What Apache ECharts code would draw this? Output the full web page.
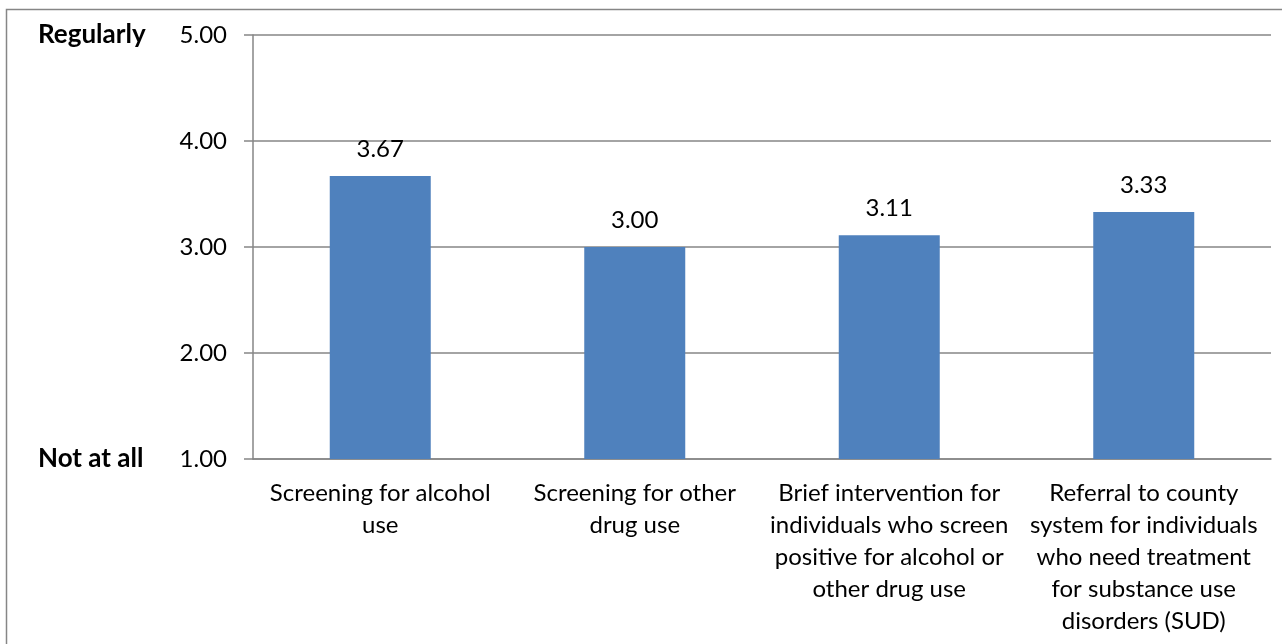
<!DOCTYPE html>
<html>
<head>
<meta charset="utf-8">
<script src="https://cdn.jsdelivr.net/npm/echarts@6/dist/echarts.min.js"></script>
<style>
    html, body { margin: 0; padding: 0; background: #fff; }
    #chart { width: 1282px; height: 644px; }
</style>
</head>
<body>
<div id="chart"></div>
<script>
// categories, one line break per wrapped row as in the picture
const categories = [
    'Screening for alcohol\nuse',
    'Screening for other\ndrug use',
    'Brief intervention for\nindividuals who screen\npositive for alcohol or\nother drug use',
    'Referral to county\nsystem for individuals\nwho need treatment\nfor substance use\ndisorders (SUD)'
];
const values = [3.67, 3.00, 3.11, 3.33];
// words next to the end ticks of the scale
const scaleWords = {1: 'Not at all', 5: 'Regularly'};

const font = 'Lato';
const grey = '#868686';

let myChart = echarts.init(document.getElementById('chart'));
myChart.setOption({
    animation: false,
    textStyle: { fontFamily: font },
    grid: { left: 253, right: 11, top: 35, bottom: 185 },
    graphic: [{
        // frame round the whole chart, only left and top edges in view
        type: 'rect',
        shape: { x: 6.5, y: 9.5, width: 1400, height: 800 },
        style: { fill: 'none', stroke: grey, lineWidth: 1.5 },
        silent: true
    }],
    xAxis: {
        type: 'category',
        data: categories,
        axisLine: { lineStyle: { color: grey, width: 1.5 } },
        axisTick: { alignWithLabel: false, length: 8, lineStyle: { color: grey, width: 1.5 } },
        axisLabel: {
            interval: 0,
            margin: 18,
            color: '#000',
            fontFamily: font,
            fontSize: 24,
            lineHeight: 32
        }
    },
    yAxis: {
        type: 'value',
        min: 1,
        max: 5,
        interval: 1,
        axisLine: { show: true, lineStyle: { color: grey, width: 1.5 } },
        axisTick: { show: true, length: 9, lineStyle: { color: grey, width: 1.5 } },
        splitLine: { lineStyle: { color: grey, width: 1.5 } },
        axisLabel: {
            margin: 26,
            formatter: function (v) {
                let word = scaleWords[v] || '';
                return '{w|' + word + '}{n|' + v.toFixed(2) + '}';
            },
            rich: {
                w: { width: 136, align: 'left', fontSize: 26, fontWeight: 'bold', color: '#000', fontFamily: font },
                n: { width: 53, align: 'right', fontSize: 24, color: '#000', fontFamily: font }
            }
        }
    },
    series: [{
        type: 'bar',
        data: values,
        barWidth: 101,
        itemStyle: { color: '#4F81BD' },
        label: {
            show: true,
            position: 'top',
            distance: 15,
            color: '#000',
            fontFamily: font,
            fontSize: 24,
            formatter: function (p) { return p.value.toFixed(2); }
        }
    }]
});
</script>
</body>
</html>
